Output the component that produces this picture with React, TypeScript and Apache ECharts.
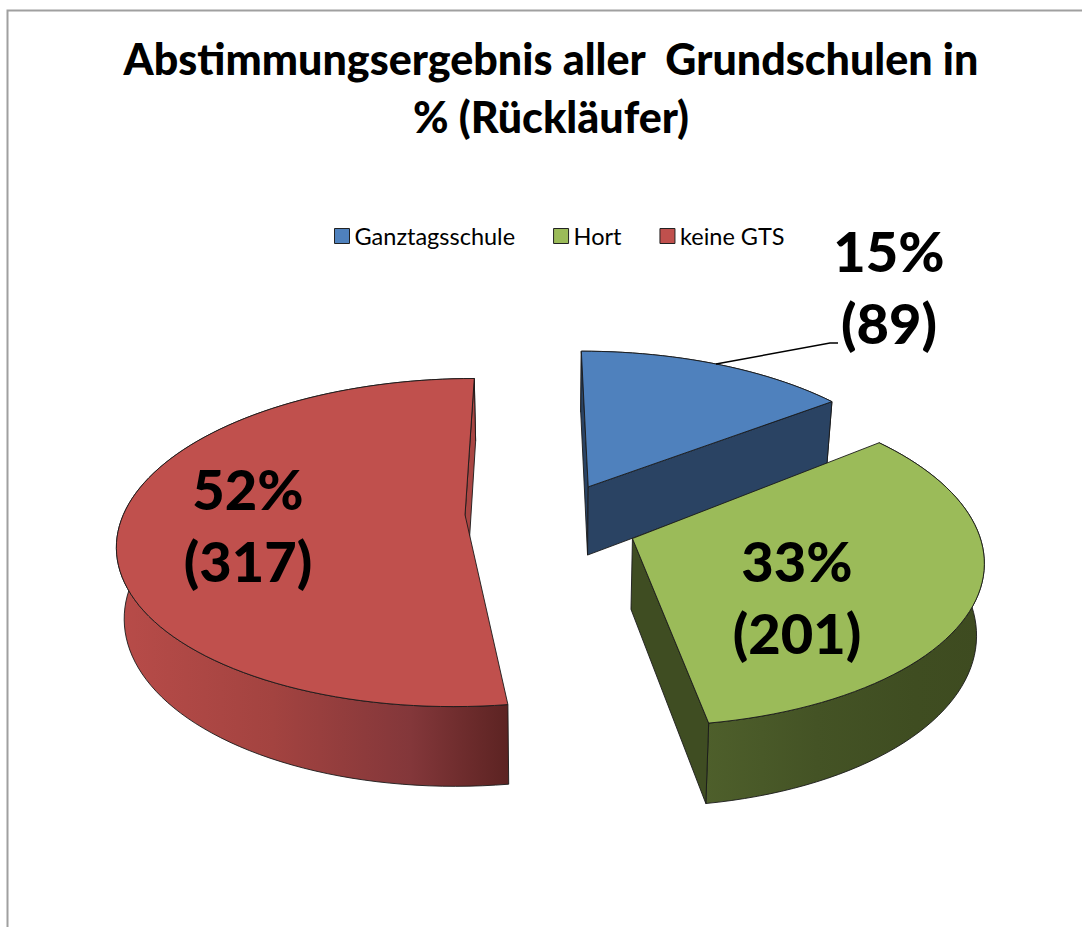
import React, { useEffect, useRef } from "react";
import * as echarts from "echarts";

const titleLines = ["Abstimmungsergebnis aller  Grundschulen in", "% (Rückläufer)"];
const categories = ["Ganztagsschule", "Hort", "keine GTS"];
const counts = [89, 201, 317];
const topColors = ["#4f81bd", "#9bbb59", "#c0504d"];
const wallColors = ["#2a4363", "#3f4d22", "#a94643"];
const outerStops: [string, string, string, string][] = [
  ["#2a4363", "#2a4363", "#2a4363", "#2a4363"],
  ["#4e5f2b", "#445325", "#3f4d21", "#3e4b20"],
  ["#b84c49", "#a34340", "#83373a", "#5c2322"],
];
const drawOrder = [0, 2, 1];

const FONT = "Lato, Carlito, 'Open Sans', sans-serif";
const START = 0;
const CX = 552, CY = 527, RX = 344, RY = 161, P = 0.12, H = 70, Q = 0.018, EXPLODE = 0.25;
const sliceNudge = [[-4, -4], [0, -4], [-1, -7]];
const tipNudge = [[3, -1], [0, 0], [0, -8]];
const sliceTurn = [0, -1.5, 0];
const total = counts.reduce((a, b) => a + b, 0);

const toRad = (d: number) => (d * Math.PI) / 180;
function project(u: number, v: number, z: number): [number, number] {
  const s = 1 / (1 - P * v);
  const k = 1 - Q * z;
  return [CX + RX * u * s * k, CY + (RY * v + H * z) * s];
}
const pathOf = (pts: [number, number][]) =>
  "M" + pts.map((p) => p[0].toFixed(2) + " " + p[1].toFixed(2)).join("L") + "Z";
const area = (p: [number, number][]) =>
  p.reduce((sum, q, i) => {
    const r = p[(i + 1) % p.length];
    return sum + q[0] * r[1] - r[0] * q[1];
  }, 0);

function sliceAngles(i: number): [number, number] {
  let a = START;
  for (let k = 0; k < i; k++) a += (counts[k] / total) * 360;
  return [a, a + (counts[i] / total) * 360];
}

const edge = { stroke: "#1a1a1a", lineWidth: 0.9, lineJoin: "round" };

function labelTexts(i: number, x: number, y: number) {
  const pct = Math.round((counts[i] / total) * 100) + "%";
  return [pct, "(" + counts[i] + ")"].map((t, k) => ({
    type: "text",
    z2: 50,
    style: {
      text: t, x, y: y + k * 72, fill: "#000",
      font: "900 56px " + FONT, textAlign: "center", textVerticalAlign: "middle",
    },
  }));
}
const labelPos = [[889, 250], [797, 560], [248, 488]];

function renderSlice(i: number) {
  return () => {
    const [base0, base1] = sliceAngles(i);
    const mid = toRad((base0 + base1) / 2);
    const a0 = base0 + sliceTurn[i], a1 = base1 + sliceTurn[i];
    const ou = EXPLODE * Math.sin(mid), ov = -EXPLODE * Math.cos(mid);
    const [nx, ny] = sliceNudge[i];
    const [tx, ty] = tipNudge[i];
    const at = (u: number, v: number, z: number): [number, number] => {
      const p = project(u, v, z);
      return [p[0] + nx, p[1] + ny];
    };
    const top: [number, number][] = [];
    const bot: [number, number][] = [];
    const n = Math.ceil((a1 - a0) / 2);
    for (let j = 0; j <= n; j++) {
      const a = toRad(a0 + ((a1 - a0) * j) / n);
      const u = ou + Math.sin(a), v = ov - Math.cos(a);
      top.push(at(u, v, 0));
      bot.push(at(u, v, 1));
    }
    const t0 = at(ou, ov, 0), b0 = at(ou, ov, 1);
    const tipT: [number, number] = [t0[0] + tx, t0[1] + ty];
    const tipB: [number, number] = [b0[0] + tx, b0[1] + ty];
    const wall = { fill: wallColors[i], ...edge };
    const s = outerStops[i];
    const wallStart: [number, number][] = [tipT, top[0], bot[0], tipB];
    const wallEnd: [number, number][] = [tipT, top[n], bot[n], tipB];
    const children: any[] = [
      {
        type: "path",
        shape: { pathData: pathOf([...top, ...bot.slice().reverse()]) },
        style: {
          ...edge,
          fill: new echarts.graphic.LinearGradient(0, 0, 1, 0, [
            { offset: 0, color: s[0] }, { offset: 0.4, color: s[1] },
            { offset: 0.75, color: s[2] }, { offset: 1, color: s[3] },
          ]),
        },
      },
    ];
    if (area(wallStart) < 0) children.push({ type: "path", shape: { pathData: pathOf(wallStart) }, style: wall });
    if (area(wallEnd) > 0) children.push({ type: "path", shape: { pathData: pathOf(wallEnd) }, style: wall });
    children.push(
      { type: "path", shape: { pathData: pathOf([tipT, ...top]) }, style: { fill: topColors[i], ...edge } },
      ...labelTexts(i, labelPos[i][0], labelPos[i][1]),
    );
    if (i === 0) {
      children.push({
        type: "polyline",
        shape: { points: [[716, 364], [830, 343], [838, 343]] },
        style: { stroke: "#000", lineWidth: 1.5, fill: "none" },
        z2: 40,
      });
    }
    return { type: "group", children };
  };
}

export default function App() {
  const ref = useRef<HTMLDivElement>(null);
  useEffect(() => {
    document.body.style.margin = "0";
    const chart = echarts.init(ref.current!, undefined, { renderer: "svg" });
    chart.setOption({
      animation: false,
      backgroundColor: "#fff",
      title: {
        text: titleLines.join("\n"),
        left: 546, top: 24, textAlign: "center",
        textStyle: { fontFamily: FONT, fontWeight: 900, fontSize: 43, lineHeight: 58, color: "#000" },
      },
      legend: {
        left: 329, top: 219, itemWidth: 15, itemHeight: 15, itemGap: 38, icon: "rect",
        selectedMode: false,
        data: categories,
        itemStyle: { borderColor: "#222", borderWidth: 1 },
        textStyle: { fontFamily: FONT, fontSize: 23.5, color: "#000" },
      },
      graphic: [{
        type: "polyline", silent: true,
        shape: { points: [[7.5, 927], [7.5, 10.5], [1082, 10.5]] },
        style: { stroke: "#a0a0a0", lineWidth: 2, fill: "none" },
      }],
      series: drawOrder.map((i, order) => ({
        type: "custom", name: categories[i], coordinateSystem: "none", silent: true,
        z: 2 + order,
        itemStyle: { color: topColors[i] },
        data: [[counts[i]]],
        renderItem: renderSlice(i),
      })),
    });
    return () => chart.dispose();
  }, []);
  return <div ref={ref} style={{ position: "absolute", left: 0, top: 0, width: 1082, height: 927 }} />;
}
